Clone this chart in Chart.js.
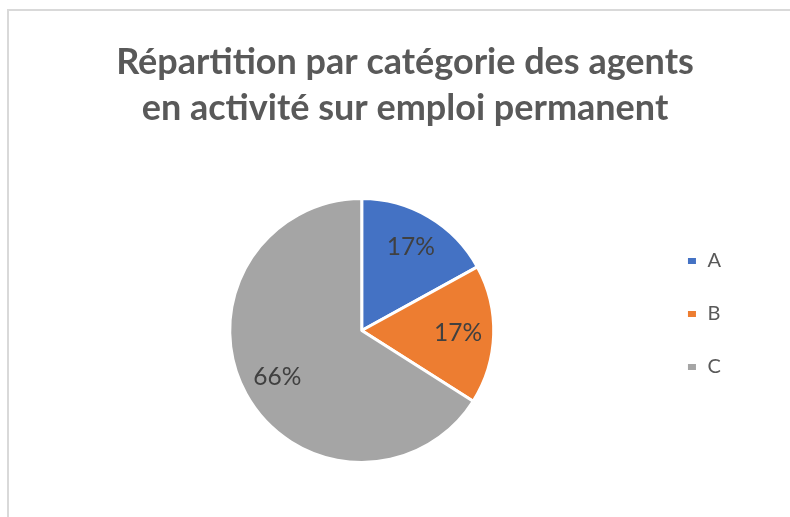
<!DOCTYPE html>
<html>
<head>
<meta charset="utf-8">
<script src="https://cdn.jsdelivr.net/npm/chart.js@4.4.1/dist/chart.umd.min.js"></script>
<style>
  html, body { margin: 0; padding: 0; background: #fff; overflow: hidden; }
  #frame { position: absolute; left: 7px; top: 9px; width: 820px; height: 540px;
           border-left: 2px solid #d9d9d9; border-top: 2px solid #d9d9d9; }
  #wrap { position: absolute; left: 10px; top: 0; width: 790px; height: 517px; }
</style>
</head>
<body>
<div id="frame"></div>
<div id="wrap"><canvas id="pieChart"></canvas></div>
<script>
const titleLines = ['Répartition par catégorie des agents', 'en activité sur emploi permanent'];
const categories = ['A', 'B', 'C'];
const shares = [17, 17, 66];
const sliceColors = ['#4472C4', '#ED7D31', '#A5A5A5'];

// percentage labels inside the slices
const sliceLabels = {
    id: 'sliceLabels',
    afterDatasetsDraw(chart) {
        const ctx = chart.ctx;
        const meta = chart.getDatasetMeta(0);
        ctx.save();
        ctx.font = '24.5px Lato';
        ctx.fillStyle = '#404040';
        ctx.textAlign = 'center';
        ctx.textBaseline = 'middle';
        meta.data.forEach((arc, i) => {
            const p = arc.getProps(['x', 'y', 'startAngle', 'endAngle', 'outerRadius'], true);
            const mid = (p.startAngle + p.endAngle) / 2;
            const r = p.outerRadius * 0.73;
            ctx.fillText(shares[i] + '%', p.x + Math.cos(mid) * r, p.y + Math.sin(mid) * r);
        });
        ctx.restore();
    }
};

new Chart(document.getElementById('pieChart'), {
    type: 'pie',
    data: {
        labels: categories,
        datasets: [{
            data: shares,
            backgroundColor: sliceColors,
            borderColor: '#ffffff',
            borderWidth: 3,
        }]
    },
    options: {
        responsive: true,
        maintainAspectRatio: false,
        animation: false,
        layout: { padding: { left: 60, right: 60, top: 0, bottom: 53 } },
        plugins: {
            title: {
                display: true,
                text: titleLines,
                color: '#595959',
                font: { family: 'Lato', size: 36, weight: 'bold', lineHeight: 46 / 36 },
                padding: { top: 39, bottom: 66 }
            },
            // empty spacer on the far right, keeps the legend beside the pie
            subtitle: {
                display: true,
                position: 'right',
                text: '',
                font: { size: 9, lineHeight: 1 },
                padding: 0
            },
            legend: {
                position: 'right',
                fullSize: false,
                align: 'start',
                title: { display: true, text: '', font: { size: 10, lineHeight: 1 }, padding: { top: 11, bottom: 0 } },
                labels: {
                    boxWidth: 11,
                    boxHeight: 9,
                    padding: 33,
                    color: '#595959',
                    font: { family: 'Lato', size: 20 }
                }
            },
            tooltip: { enabled: false }
        }
    },
    plugins: [sliceLabels]
});
</script>
</body>
</html>
